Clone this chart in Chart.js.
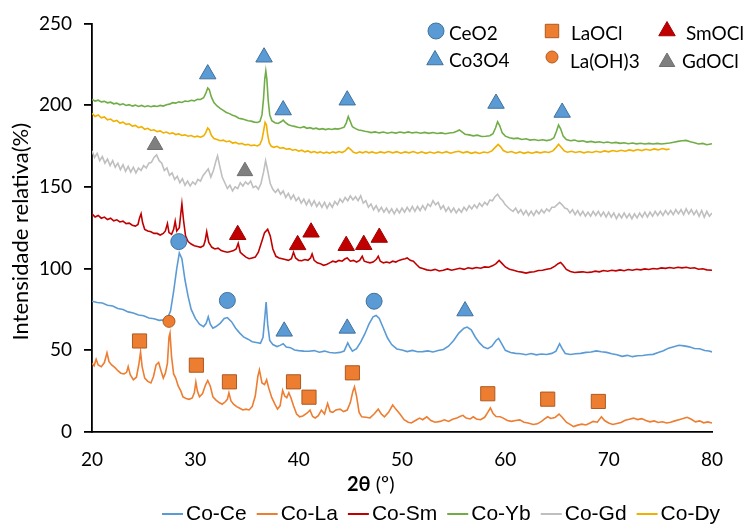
<!DOCTYPE html>
<html>
<head>
<meta charset="utf-8">
<script src="https://cdn.jsdelivr.net/npm/chart.js@4.4.1/dist/chart.umd.min.js"></script>
<style>
  html, body { margin: 0; padding: 0; background: #fff; }
</style>
</head>
<body>
<canvas id="grafico" width="744" height="524"></canvas>
<script>
// eixos
const ticksX = [20, 30, 40, 50, 60, 70, 80];
const ticksY = [0, 50, 100, 150, 200, 250];

// amostras (ordem da legenda) e cores
const amostras = ['Co-Ce', 'Co-La', 'Co-Sm', 'Co-Yb', 'Co-Gd', 'Co-Dy'];
const cores = ['#5B9BD5', '#ED7D31', '#C00000', '#70AD47', '#BFBFBF', '#F0B000'];

// difratogramas: [2θ, intensidade]
const coCe = [[20,80],[20.5,79.2],[21,78.9],[21.5,77.6],[22,77.1],[22.5,75.6],[23,74.9],[23.5,73.5],[24,72.8],[24.5,71.6],[25,71.1],[25.5,69.8],[26,69.3],[26.5,68.3],[27,68.6],[27.3,69.5],[27.6,74],[27.9,86],[28.2,100],[28.45,109.5],[28.7,106],[29,93],[29.3,83],[29.6,75],[30,69.5],[30.4,66],[30.8,64.5],[31.05,66.5],[31.25,70.5],[31.45,66],[31.7,63.5],[32,64.5],[32.4,66.5],[32.8,69.5],[33.1,70],[33.5,67.5],[33.9,63.5],[34.3,60.5],[34.7,58],[35.1,56.8],[35.5,55.2],[35.9,54.8],[36.3,54.3],[36.55,58],[36.75,72],[36.85,79.5],[37,66],[37.2,56],[37.5,53.5],[37.9,52.3],[38.2,53],[38.5,54],[38.8,52],[39.2,51.6],[39.6,50.2],[40,49.8],[40.5,49.5],[41,49.4],[41.5,49.8],[42,48.8],[42.5,49.5],[43,48.6],[43.5,48.3],[44,48.7],[44.4,49.5],[44.75,54.5],[44.95,52],[45.2,49.5],[45.6,51],[46,55],[46.4,60],[46.8,66],[47.2,70.5],[47.5,71.3],[47.8,69.5],[48.2,63.5],[48.6,57.5],[49,53.5],[49.5,50.8],[50,50.2],[50.5,49.2],[51,49.9],[51.5,49.1],[52,49.2],[52.5,49.6],[53,49],[53.5,49.9],[54,50.5],[54.5,52.5],[55,56],[55.5,60.5],[56,63.5],[56.3,64.2],[56.7,62.5],[57.1,58],[57.5,54.5],[57.9,52],[58.3,51],[58.7,52.5],[59.1,56],[59.35,57.3],[59.6,54.5],[60,50],[60.5,48.6],[61,48.1],[61.5,47.9],[62,47.3],[62.5,48],[63,47.2],[63.5,47.7],[64,47.4],[64.5,48.1],[64.9,49.5],[65.25,54],[65.5,51],[65.8,48],[66.3,47.4],[66.8,47.9],[67.3,48.1],[67.8,48.7],[68.3,48.9],[68.8,49.6],[69.3,49.1],[69.8,48.7],[70.3,47.9],[70.8,47.3],[71.3,46.3],[71.8,46.9],[72.3,46.1],[72.8,46.7],[73.3,46.8],[73.8,47.3],[74.3,47.5],[74.8,48.7],[75.3,49.7],[75.8,51.3],[76.3,52.2],[76.8,53.1],[77.3,52.7],[77.8,52.1],[78.3,51.1],[78.8,50.9],[79.3,49.9],[79.7,49.6],[80,49]];

const coLa = [[20,42],[20.2,40.5],[20.4,44.5],[20.6,41],[20.9,40],[21.2,42.5],[21.45,48.5],[21.65,43],[21.9,41],[22.2,39.5],[22.5,37.5],[22.8,36],[23.1,35.5],[23.35,36.5],[23.5,40],[23.7,35],[24,32],[24.3,33.5],[24.55,42],[24.7,49],[24.85,40],[25.1,33],[25.4,31],[25.7,30],[25.95,34],[26.2,41],[26.45,42.5],[26.7,37],[26.9,33],[27.1,36],[27.3,42],[27.45,58],[27.55,60.5],[27.7,46],[27.9,35.5],[28.1,33],[28.35,28],[28.6,25],[28.8,21.5],[29.1,20.5],[29.4,20],[29.7,20.8],[29.9,24],[30.05,30.5],[30.2,25],[30.4,21.5],[30.7,23.5],[31,29],[31.2,31.5],[31.45,28],[31.7,21.5],[32,19.5],[32.3,18],[32.6,17],[32.9,18.5],[33.1,20],[33.25,24],[33.45,19],[33.7,17],[34,15.5],[34.3,14.5],[34.6,13.5],[34.9,14],[35.2,13.5],[35.5,15.5],[35.8,22],[36.05,34],[36.2,38],[36.45,30],[36.7,29],[36.9,32],[37.1,27],[37.4,21],[37.7,17],[37.95,14],[38.2,16],[38.45,25.5],[38.65,22],[38.85,21],[39.05,24],[39.25,21],[39.5,16],[39.8,11],[40.1,9.3],[40.4,9.8],[40.8,11.5],[41.1,13.4],[41.35,9.5],[41.6,8.6],[41.9,10],[42.2,13.4],[42.5,11],[42.8,17.5],[43.05,12.5],[43.3,12],[43.6,13.5],[44,14],[44.35,12.5],[44.7,13.4],[45,18],[45.25,25],[45.4,27.6],[45.6,22],[45.85,12],[46.1,9.3],[46.5,9],[46.9,8.6],[47.3,11],[47.7,14],[48,11],[48.3,9.3],[48.7,12],[49.1,16.5],[49.4,14],[49.8,11],[50.2,7.5],[50.6,6],[50.9,5.5],[51.3,7],[51.7,8.5],[52,7.5],[52.4,9.3],[52.8,7],[53.2,6],[53.7,6.5],[54.1,7.5],[54.5,6.5],[54.9,7.8],[55.3,8.5],[55.6,9.5],[55.9,10.2],[56.2,8.5],[56.6,8],[56.9,9.3],[57.2,8],[57.6,7.5],[58,9],[58.3,12],[58.55,14.7],[58.8,11.5],[59.1,9.5],[59.5,9.3],[59.8,8.5],[60.2,7],[60.6,6.5],[61,7],[61.4,7.4],[61.8,6],[62.2,5.5],[62.7,4.6],[63.1,5],[63.5,6.5],[63.8,8],[64.1,9.3],[64.4,8.3],[64.8,8.8],[65.2,11],[65.5,9],[65.9,6],[66.3,4.5],[66.6,3.3],[67,4.2],[67.4,4.8],[67.8,4.3],[68.2,5.5],[68.5,6.5],[68.9,6],[69.3,9.3],[69.6,7],[70,5.5],[70.4,4.6],[70.8,5.2],[71.2,5.8],[71.6,7.2],[72,7.8],[72.4,8.5],[72.8,7.6],[73.2,8.2],[73.6,7],[74,6.2],[74.4,6.8],[74.8,5.8],[75.2,6.3],[75.6,5.5],[76,6],[76.4,6.8],[76.8,7.5],[77.2,8.2],[77.6,9],[78,7.8],[78.4,6.2],[78.8,6.8],[79.2,5.6],[79.6,6.2],[80,5.5]];

const coSm = [[20,133.5],[20.3,131.5],[20.6,132.5],[20.9,130.8],[21.2,131.5],[21.5,130],[21.8,130.8],[22.1,129.2],[22.4,129.8],[22.7,128.5],[23,129],[23.3,127.5],[23.6,127.8],[23.9,126.5],[24.2,126],[24.45,127],[24.6,131],[24.75,133.5],[24.9,128],[25.1,124],[25.4,123],[25.7,122.5],[26,121.5],[26.3,121.5],[26.6,120.5],[26.9,121.5],[27.1,123],[27.3,127.5],[27.45,122],[27.7,121],[27.9,124],[28.05,129],[28.2,123],[28.45,125],[28.6,134],[28.7,139.6],[28.85,130],[29.05,120],[29.3,116.5],[29.6,115],[29.9,114],[30.2,113.5],[30.5,113],[30.8,114],[30.95,117],[31.1,122.5],[31.3,116],[31.6,113],[31.9,112],[32.2,112.5],[32.5,111],[32.8,110.5],[33.1,110],[33.4,110.5],[33.7,111],[33.95,112],[34.15,115.5],[34.35,110],[34.6,108.5],[34.9,107],[35.2,106],[35.5,106.5],[35.8,107],[36.1,110],[36.4,116],[36.7,122],[37,124],[37.25,120],[37.5,112],[37.8,107.5],[38.1,106.5],[38.4,106],[38.7,105.5],[39,105],[39.3,106],[39.5,110],[39.7,106.5],[40,105],[40.3,104.8],[40.6,105.5],[40.9,105],[41.15,106.5],[41.3,109],[41.5,105],[41.8,103.5],[42.1,103],[42.4,102],[42.7,102.5],[43,103.5],[43.3,104.5],[43.6,104],[43.9,105],[44.2,104.5],[44.5,106],[44.7,106.5],[45,104.5],[45.3,105],[45.6,104],[45.9,105],[46.15,107.5],[46.35,104.5],[46.6,104],[46.9,103.5],[47.2,104],[47.5,105.5],[47.7,107.5],[47.9,104.5],[48.2,103.5],[48.5,104],[48.8,103.5],[49.1,104.5],[49.4,104],[49.7,105],[50,105.5],[50.3,106],[50.5,106.5],[50.8,105],[51.1,104.5],[51.4,102.5],[51.7,100.6],[52,100],[52.4,99.2],[52.8,98.8],[53.2,99.5],[53.6,98.5],[54,99],[54.4,99.8],[54.8,99],[55.2,99.6],[55.6,100.2],[56,99.5],[56.4,100.5],[56.8,100],[57.2,100.6],[57.6,100.2],[58,101],[58.4,100.8],[58.8,101.8],[59.1,103],[59.4,105],[59.7,103],[60,101],[60.4,99.6],[60.8,99],[61.2,98.2],[61.6,97.8],[62,97.2],[62.4,97.8],[62.8,98],[63.2,98.8],[63.6,99],[64,99.6],[64.4,100],[64.8,101.5],[65.1,103],[65.35,103.7],[65.6,102],[65.9,99.5],[66.3,98.2],[66.7,97.6],[67.1,97.8],[67.5,98],[67.9,97.6],[68.3,97.8],[68.7,98.4],[69.1,98],[69.5,98.8],[69.9,98.4],[70.3,99],[70.7,98.6],[71.1,99.2],[71.5,98.7],[71.9,99.4],[72.3,99],[72.7,99.6],[73.1,99.2],[73.5,99.8],[73.9,99.4],[74.3,100],[74.7,99.7],[75.1,100.4],[75.5,100.1],[75.9,100.6],[76.3,100.2],[76.7,100.8],[77.1,100.4],[77.5,100.8],[77.9,100.2],[78.3,100.5],[78.7,99.6],[79.1,99.9],[79.5,99.2],[80,99]];

const coYb = [[20,203.5],[20.3,202.5],[20.6,203],[20.9,202],[21.2,202.3],[21.5,201.4],[21.8,201.8],[22.1,200.8],[22.4,201.2],[22.7,200.2],[23,200.8],[23.3,199.8],[23.6,200.3],[23.9,199.4],[24.2,200],[24.5,199.2],[24.8,199.8],[25.1,199],[25.4,199.6],[25.7,199],[26,199.5],[26.3,199.2],[26.6,199.8],[26.9,199.4],[27.2,200.2],[27.5,200.6],[27.8,201.5],[28.1,201.2],[28.4,202],[28.7,201.6],[29,202.5],[29.3,202.2],[29.6,203],[29.9,202.6],[30.2,203.5],[30.5,203.4],[30.8,204.5],[31,207],[31.2,210.5],[31.35,209.5],[31.55,205],[31.8,201.5],[32.1,199.5],[32.4,198],[32.7,196.8],[33,195.5],[33.3,194.8],[33.6,193.8],[33.9,193.2],[34.2,192],[34.5,191.6],[34.8,191],[35.1,190.4],[35.4,190.2],[35.7,189.6],[36,189.4],[36.25,190],[36.45,194],[36.6,204],[36.72,216],[36.82,221],[36.92,216],[37.05,203],[37.2,194],[37.4,190.5],[37.7,189.2],[38,188.8],[38.3,189.8],[38.5,190.8],[38.7,189.5],[39,188],[39.3,187.4],[39.6,187],[39.9,186.5],[40.2,186.2],[40.5,186.8],[40.8,185.8],[41.1,186.2],[41.4,185.5],[41.7,185.9],[42,185.2],[42.3,185.6],[42.6,185],[42.9,185.5],[43.2,185.1],[43.5,185.6],[43.8,185.3],[44.1,185.8],[44.4,186.5],[44.6,189],[44.8,193],[45,190],[45.2,186.8],[45.5,185.6],[45.8,184.8],[46.1,184.5],[46.4,184],[46.7,183.7],[47,183.2],[47.4,183.6],[47.8,183],[48.2,183.5],[48.6,182.8],[49,183.4],[49.4,182.9],[49.8,183.5],[50.2,183],[50.6,183.6],[51,183],[51.4,183.4],[51.8,182.8],[52.2,183.3],[52.6,182.7],[53,183.2],[53.4,182.6],[53.8,183],[54.2,182.5],[54.6,182.9],[55,183.2],[55.3,184],[55.55,184.8],[55.8,183.6],[56.1,182.2],[56.5,181.8],[56.9,181.2],[57.3,181.6],[57.7,180.8],[58.1,181],[58.5,181.3],[58.8,182.5],[59.05,186],[59.25,189.8],[59.45,187.5],[59.7,183],[60,181],[60.4,180],[60.8,179.5],[61.2,179.8],[61.6,179],[62,179.4],[62.4,178.6],[62.8,179],[63.2,178.4],[63.6,178.8],[64,178.3],[64.4,178.8],[64.7,180],[64.95,184],[65.15,187.8],[65.35,185.5],[65.6,181],[65.9,179],[66.3,178.2],[66.7,178.6],[67.1,177.8],[67.5,178.2],[67.9,177.4],[68.3,177.8],[68.7,177.2],[69.1,177.6],[69.5,177],[69.9,177.4],[70.3,176.8],[70.7,177.2],[71.1,176.6],[71.5,177],[71.9,176.4],[72.3,176.8],[72.7,176.3],[73.1,176.7],[73.5,176.2],[73.9,176.6],[74.3,176.2],[74.7,176.6],[75.1,176.2],[75.5,176.5],[75.9,176.8],[76.3,177.3],[76.7,177.8],[77.1,178.2],[77.5,178.4],[77.9,177.6],[78.3,177],[78.7,176.2],[79.1,176.6],[79.5,175.8],[80,176.4]];

const coGd = [[20,172],[20.25,168],[20.5,170.5],[20.75,166],[21,168.5],[21.25,164.5],[21.5,167],[21.75,163],[22,166],[22.25,162],[22.5,164.5],[22.75,160.5],[23,163.5],[23.25,159.5],[23.5,162.5],[23.75,159],[24,162],[24.25,158.5],[24.5,161.5],[24.75,160],[25,163],[25.25,161.5],[25.5,164.5],[25.75,165],[26,168],[26.25,169.5],[26.5,166],[26.75,164.5],[27,160],[27.25,161.5],[27.5,157],[27.75,158.5],[28,154.5],[28.25,156.5],[28.5,152.5],[28.75,155],[29,151],[29.25,153.5],[29.5,150.5],[29.75,153],[30,151.5],[30.25,154.5],[30.5,153.5],[30.75,157],[31,159],[31.25,161],[31.5,156],[31.75,160],[32,166],[32.15,169],[32.35,163],[32.6,156],[32.85,152.5],[33.1,149],[33.35,151],[33.6,147.5],[33.85,150],[34.1,149],[34.35,152.5],[34.6,150.5],[34.85,153],[35.1,151.5],[35.35,153.5],[35.6,149.5],[35.85,150.5],[36.1,148.5],[36.35,152],[36.6,159],[36.8,166],[37,160],[37.25,152],[37.5,148.5],[37.75,146.5],[38,148.5],[38.25,145.5],[38.5,147.5],[38.75,143.5],[39,146],[39.25,142.5],[39.5,145],[39.75,141.5],[40,143.5],[40.25,140],[40.5,142.5],[40.75,139],[41,142],[41.25,138.5],[41.5,141.5],[41.75,138],[42,140.5],[42.25,137.5],[42.5,140.5],[42.75,137],[43,140],[43.25,137.5],[43.5,141],[43.75,139],[44,142.5],[44.25,140.5],[44.5,143.5],[44.75,141.5],[45,144.5],[45.25,142],[45.5,144],[45.75,141.5],[46,144.5],[46.25,140],[46.5,141.5],[46.75,137.5],[47,139.5],[47.25,136],[47.5,138.5],[47.75,135],[48,137.5],[48.25,134.5],[48.5,137],[48.75,134],[49,136.5],[49.25,133.5],[49.5,136.5],[49.75,134],[50,137],[50.25,134.5],[50.5,137.5],[50.75,135],[51,138],[51.25,135],[51.5,138],[51.75,135.5],[52,138.5],[52.25,136],[52.5,139.5],[52.75,138],[53,141.5],[53.25,139],[53.5,140.5],[53.75,136.5],[54,138.5],[54.25,135],[54.5,137.5],[54.75,134.5],[55,137],[55.25,134],[55.5,136.5],[55.75,134.5],[56,137.5],[56.25,135.5],[56.5,138.5],[56.75,136.5],[57,139],[57.25,137],[57.5,140],[57.75,138],[58,140.5],[58.25,139],[58.5,142],[58.75,141.5],[59,144],[59.25,145.5],[59.5,143],[59.75,141.5],[60,139],[60.25,137.5],[60.5,136],[60.75,135],[61,137],[61.25,134],[61.5,136],[61.75,133],[62,135.5],[62.25,132.5],[62.5,135],[62.75,132.5],[63,135.5],[63.25,133.5],[63.5,136],[63.75,134],[64,136.5],[64.25,135],[64.5,137.5],[64.75,137.5],[65,139],[65.25,140.5],[65.5,139],[65.75,137],[66,136.5],[66.25,134],[66.5,136],[66.75,133],[67,135.5],[67.25,132.5],[67.5,135],[67.75,132],[68,134.5],[68.25,132],[68.5,135],[68.75,132.5],[69,135],[69.25,132],[69.5,134.5],[69.75,131.5],[70,134.5],[70.25,131.5],[70.5,134],[70.75,130.5],[71,133.5],[71.25,131],[71.5,134],[71.75,131],[72,133.5],[72.25,130.5],[72.5,133.5],[72.75,131],[73,134],[73.25,131.5],[73.5,134.5],[73.75,131.5],[74,134.5],[74.25,132],[74.5,135],[74.75,132.5],[75,135],[75.25,132.5],[75.5,135.5],[75.75,133],[76,135.5],[76.25,133],[76.5,136],[76.75,133.5],[77,136],[77.25,133],[77.5,136.5],[77.75,133.5],[78,136],[78.25,133],[78.5,135.5],[78.75,132],[79,135.5],[79.25,131.5],[79.5,135],[79.75,132],[80,134]];

const coDy = [[20,195],[20.3,193],[20.6,194],[20.9,192.2],[21.2,192.8],[21.5,191],[21.8,191.5],[22.1,190],[22.4,190.6],[22.7,189],[23,189.6],[23.3,188.2],[23.6,188.6],[23.9,187.2],[24.2,187.6],[24.5,186.2],[24.8,186.8],[25.1,185.2],[25.4,185.8],[25.7,184.5],[26,184.9],[26.3,183.8],[26.6,184.2],[26.9,183],[27.2,183.5],[27.5,182.5],[27.8,183],[28.1,182],[28.4,182.4],[28.7,181.4],[29,181.8],[29.3,181],[29.6,181.4],[29.9,180.5],[30.2,181],[30.5,180.4],[30.8,181.2],[31,183],[31.2,186],[31.35,185],[31.55,181.5],[31.8,179.6],[32.1,179],[32.4,178.2],[32.7,178.6],[33,177.6],[33.3,178],[33.6,176.8],[33.9,177.2],[34.2,176.2],[34.5,176.6],[34.8,175.6],[35.1,176],[35.4,175.2],[35.7,175.6],[36,175],[36.25,176],[36.45,179],[36.6,184],[36.75,189.5],[36.88,188],[37,182],[37.15,177],[37.35,174.8],[37.6,174.2],[37.9,174.8],[38.2,173.6],[38.5,174],[38.8,173],[39.1,173.4],[39.4,172.4],[39.7,172.8],[40,171.8],[40.3,172.4],[40.6,171.4],[40.9,172],[41.2,171],[41.5,171.6],[41.8,170.8],[42.1,171.4],[42.4,170.6],[42.7,171.2],[43,170.6],[43.3,171.4],[43.6,170.8],[43.9,171.6],[44.2,171],[44.5,172],[44.8,174],[45.05,172.8],[45.3,171.2],[45.6,170.6],[45.9,171.4],[46.2,170.8],[46.5,171.6],[46.8,170.8],[47.1,171.4],[47.5,170.6],[47.9,171.4],[48.3,170.8],[48.7,171.6],[49.1,170.8],[49.5,171.5],[49.9,170.6],[50.3,171.4],[50.7,170.8],[51.1,171.6],[51.5,170.6],[51.9,171.4],[52.3,170.5],[52.7,171.3],[53.1,170.6],[53.5,171.4],[53.9,170.7],[54.3,171.5],[54.7,170.6],[55.1,171.3],[55.5,171.8],[55.9,170.8],[56.3,171.5],[56.7,170.5],[57.1,171.2],[57.5,170.4],[57.9,171.3],[58.3,170.9],[58.7,172],[59,174],[59.3,176],[59.55,174.5],[59.8,172.2],[60.2,171],[60.6,171.6],[61,170.6],[61.4,171.4],[61.8,170.5],[62.2,171.2],[62.6,170.6],[63,171.4],[63.4,170.8],[63.8,171.5],[64.2,171],[64.6,172],[64.9,174],[65.15,176],[65.4,174.2],[65.7,172],[66,171.2],[66.4,171.8],[66.8,171],[67.2,171.6],[67.6,170.8],[68,171.5],[68.4,171],[68.8,171.8],[69.2,171.2],[69.6,172],[70,171.4],[70.4,172.2],[70.8,171.6],[71.2,172.4],[71.6,171.8],[72,172.6],[72.4,172],[72.8,172.8],[73.2,172.2],[73.6,173],[74,172.4],[74.4,173.2],[74.8,172.6],[75.2,173.4],[75.6,172.8],[75.9,173.2]];

const series = [coCe, coLa, coSm, coYb, coGd, coDy];

// marcadores das fases cristalinas: [2θ, posição]
const fases = ['CeO2', 'Co3O4', 'LaOCl', 'La(OH)3', 'SmOCl', 'GdOCl'];
const picosCeO2 = [[28.4, 116.5], [33.1, 80.5], [47.3, 80]];
const picosCo3O4 = [[31.2, 219], [36.65, 229.3], [38.5, 197], [44.7, 203], [59.1, 201], [65.5, 195.5], [38.6, 61.6], [44.7, 63.4], [56.1, 74]];
const picosLaOCl = [[24.6, 55.7], [30.1, 40.9], [33.3, 30.7], [39.5, 30.7], [41.0, 21.3], [45.2, 36.2], [58.3, 23.4], [64.1, 20.1], [69.0, 18.7]];
const picosLaOH3 = [[27.45, 67.7]];
const picosSmOCl = [[34.1, 120.7], [39.9, 114.5], [41.2, 122.2], [44.6, 114], [46.3, 114.6], [47.8, 119]];
const picosGdOCl = [[26.1, 175.6], [34.8, 159.6]];

// estilo de cada fase: [forma, raio, preenchimento, contorno]
const estiloFases = [
  ['circle', 8, '#5B9BD5', '#41719C'],
  ['triangle', 9.5, '#5B9BD5', '#41719C'],
  ['rect', 10, '#ED7D31', '#AE5A21'],
  ['circle', 6, '#ED7D31', '#AE5A21'],
  ['triangle', 9.5, '#C00000', '#A00000'],
  ['triangle', 9, '#7F7F7F', '#6F6F6F']
];
const picos = [picosCeO2, picosCo3O4, picosLaOCl, picosLaOH3, picosSmOCl, picosGdOCl];

const pontos = arr => arr.map(([x, y]) => ({ x, y }));

const datasets = [];
picos.forEach((p, i) => {
  const [forma, raio, cor, borda] = estiloFases[i];
  datasets.push({
    label: fases[i],
    data: pontos(p),
    showLine: false,
    pointStyle: forma,
    pointRadius: raio,
    pointBackgroundColor: cor,
    pointBorderColor: borda,
    pointBorderWidth: 1,
    order: 0
  });
});
series.forEach((s, i) => {
  datasets.push({
    label: amostras[i],
    data: pontos(s),
    showLine: true,
    borderColor: cores[i],
    borderWidth: 1.6,
    pointRadius: 0,
    tension: 0,
    order: 6 - i
  });
});

// desenha um marcador fora da área de dados (chave das fases)
function marcador(ctx, forma, r, x, y, cor, borda) {
  ctx.save();
  ctx.fillStyle = cor;
  ctx.strokeStyle = borda;
  ctx.lineWidth = 1;
  ctx.beginPath();
  if (forma === 'circle') {
    ctx.arc(x, y, r, 0, Math.PI * 2);
  } else if (forma === 'rect') {
    const l = r * Math.SQRT1_2;
    ctx.rect(x - l, y - l, 2 * l, 2 * l);
  } else {
    ctx.moveTo(x, y - r);
    ctx.lineTo(x + r * Math.sqrt(3) / 2, y + r / 2);
    ctx.lineTo(x - r * Math.sqrt(3) / 2, y + r / 2);
    ctx.closePath();
  }
  ctx.fill();
  ctx.stroke();
  ctx.restore();
}

const extras = {
  id: 'extras',
  afterDraw(chart) {
    const ctx = chart.ctx;
    const area = chart.chartArea;
    ctx.save();
    ctx.fillStyle = '#000';

    // título do eixo y
    ctx.save();
    ctx.translate(21, (area.top + area.bottom) / 2 + 4);
    ctx.rotate(-Math.PI / 2);
    ctx.font = '22px Lato';
    ctx.textAlign = 'center';
    ctx.textBaseline = 'middle';
    ctx.fillText('Intensidade relativa(%)', 0, 0);
    ctx.restore();

    // título do eixo x: 2θ em negrito
    ctx.textBaseline = 'middle';
    ctx.textAlign = 'left';
    ctx.font = 'bold 20px Lato';
    const xt = 347;
    ctx.fillText('2θ', xt, 485);
    const w = ctx.measureText('2θ').width;
    ctx.font = '20px Lato';
    ctx.fillText(' (º)', xt + w, 485);

    // chave das fases
    const chave = [[436, 31, 449, 34], [435, 60, 449, 61], [552, 31, 571, 34], [552, 57, 570, 62], [667, 31, 686, 34], [667, 62, 682, 62]];
    ctx.font = '19px Lato';
    chave.forEach(([mx, my, tx, ty], i) => {
      const [forma, raio, cor, borda] = estiloFases[i];
      marcador(ctx, forma, i === 2 ? 9.5 : raio, mx, my, cor, borda);
      ctx.fillStyle = '#000';
      ctx.fillText(fases[i], tx, ty);
    });

    // legenda das amostras
    ctx.font = '21px "Liberation Sans", Arial';
    let x = 162;
    const y = 514;
    amostras.forEach((nome, i) => {
      ctx.strokeStyle = cores[i];
      ctx.lineWidth = 2;
      ctx.beginPath();
      ctx.moveTo(x, y);
      ctx.lineTo(x + 21, y);
      ctx.stroke();
      ctx.fillStyle = '#000';
      ctx.fillText(nome, x + 24, y);
      x += 24 + ctx.measureText(nome).width + 10;
    });
    ctx.restore();
  }
};

new Chart(document.getElementById('grafico'), {
  type: 'scatter',
  data: { datasets },
  options: {
    responsive: false,
    animation: false,
    events: [],
    layout: { padding: { top: 22, right: 32, left: 0, bottom: 0 } },
    plugins: { legend: { display: false }, tooltip: { enabled: false } },
    scales: {
      x: {
        type: 'linear',
        min: ticksX[0],
        max: ticksX[ticksX.length - 1],
        afterFit: s => { s.height = 92; },
        afterBuildTicks: s => { s.ticks = ticksX.map(v => ({ value: v })); },
        grid: { display: false, drawTicks: false },
        border: { display: true, color: '#000', width: 1.8 },
        ticks: { color: '#000', font: { family: 'Lato', size: 19 }, padding: 16 }
      },
      y: {
        type: 'linear',
        min: ticksY[0],
        max: ticksY[ticksY.length - 1],
        afterFit: s => { s.width = 92; },
        afterBuildTicks: s => { s.ticks = ticksY.map(v => ({ value: v })); },
        grid: { drawOnChartArea: false, drawTicks: true, tickLength: 8, color: '#000', lineWidth: 1.8 },
        border: { display: true, color: '#000', width: 1.8 },
        ticks: { color: '#000', font: { family: 'Lato', size: 19 }, padding: 12 }
      }
    }
  },
  plugins: [extras]
});
</script>
</body>
</html>
